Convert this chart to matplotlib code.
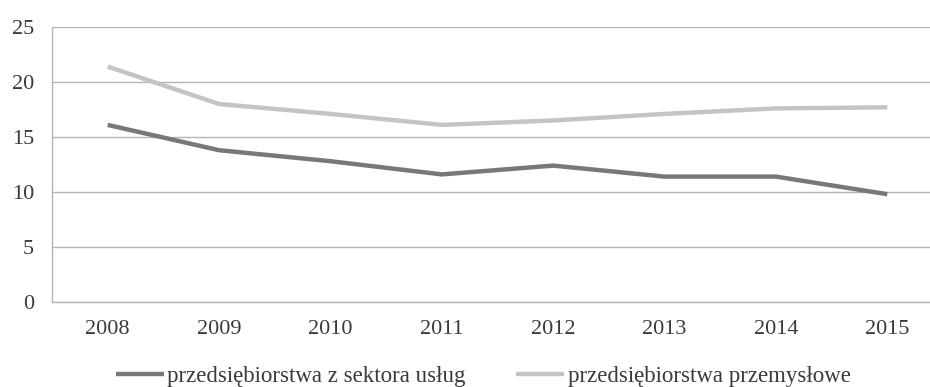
import matplotlib
matplotlib.use("Agg")
import matplotlib.pyplot as plt

years = ["2008", "2009", "2010", "2011", "2012", "2013", "2014", "2015"]
services = [16.1, 13.8, 12.8, 11.6, 12.4, 11.4, 11.4, 9.8]
industry = [21.4, 18.0, 17.1, 16.1, 16.5, 17.1, 17.6, 17.7]
labels = ["przedsiębiorstwa z sektora usług", "przedsiębiorstwa przemysłowe"]
yticks = [0, 5, 10, 15, 20, 25]

plt.rcParams['font.family'] = ['Liberation Serif', 'DejaVu Serif']

fig = plt.figure(figsize=(9.3, 3.87), dpi=100)
W, H = 930, 387
left, right, top, bottom = 52, 943, 27, 302
ax = fig.add_axes([left / W, 1 - bottom / H, (right - left) / W, (bottom - top) / H])

x = list(range(len(years)))
ax.plot(x, services, color="#787878", lw=3.2, label=labels[0], solid_capstyle="butt")
ax.plot(x, industry, color="#c4c4c4", lw=3.2, label=labels[1], solid_capstyle="butt")

ax.set_xlim(-0.5, len(years) - 0.5)
ax.set_ylim(0, 25)
ax.set_xticks(x)
ax.set_xticklabels(years)
ax.set_yticks(yticks)
ax.set_yticklabels([str(v) for v in yticks])
ax.tick_params(axis="both", length=0, labelsize=16, colors="#3a3a3a")
ax.tick_params(axis="x", pad=13)
ax.tick_params(axis="y", pad=13)
ax.grid(axis="y", color="#b4b4b4", lw=1)
ax.set_axisbelow(True)
for s in ["top", "right"]:
    ax.spines[s].set_visible(False)
ax.spines["left"].set_color("#b4b4b4")
ax.spines["bottom"].set_color("#b4b4b4")
ax.spines["left"].set_linewidth(1)
ax.spines["bottom"].set_linewidth(1)

fig.legend(loc="center", bbox_to_anchor=(483 / W, 1 - 376 / H), ncol=2, frameon=False,
           fontsize=16.5, handlelength=2.1, handletextpad=0.15, columnspacing=2.2,
           labelcolor="#3a3a3a", borderpad=0, borderaxespad=0)

fig.savefig("out.png", dpi=100)
